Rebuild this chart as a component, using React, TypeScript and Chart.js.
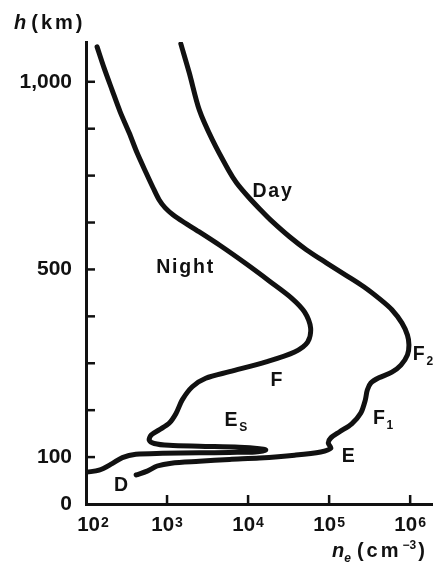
import React, { useEffect, useRef } from 'react';
import { Chart, registerables, LinearScale } from 'chart.js';

Chart.register(...registerables);

// Electron density profiles of the ionosphere (cm^-3 versus height in km)
const DAY_N = [1.48e3, 1.88e3, 2.5e3, 3.63e3, 5.72e3, 7.19e3, 1.01e4, 1.42e4, 1.89e4, 3.25e4, 5.28e4, 9.34e4, 1.6e5, 2.68e5, 4.35e5, 5.95e5, 7.9e5, 9.26e5, 9.66e5, 9.26e5, 7.69e5, 5.95e5, 4.11e5, 3.27e5, 2.96e5, 2.8e5, 2.46e5, 1.9e5, 1.35e5, 1.05e5, 9.75e4, 1.05e5, 7.87e4, 3.75e4, 1.38e4, 5.9e3, 2.5e3, 1.13e3, 756, 569, 416];
const DAY_H = [1101, 1024, 925, 845, 765, 731, 693, 659, 632, 587, 552, 517, 488, 463, 435, 414, 386, 360, 339, 318, 296, 281, 269, 258, 243, 222, 194, 171, 154, 141, 130, 119, 111, 104, 98, 95, 91, 87, 81, 70, 62];

const NIGHT_N = [137, 167, 210, 264, 341, 428, 553, 675, 801, 950, 1193, 1633, 2298, 4426, 9460, 1.84e4, 3.44e4, 4.99e4, 5.91e4, 5.43e4, 3.75e4, 1.67e4, 5.9e3, 3.0e3, 2.05e3, 1.54e3, 1.29e3, 1.06e3, 800, 637, 603, 695, 1.06e3, 2.5e3, 7.8e3, 1.38e4, 1.65e4, 1.23e4, 5.9e3, 2.5e3, 880, 412, 281, 210, 145, 103];
const NIGHT_H = [1093, 1037, 978, 920, 864, 810, 757, 717, 685, 664, 645, 625, 605, 565, 515, 475, 439, 409, 375, 345, 324, 303, 282, 268, 250, 222, 193, 172, 158, 147, 136, 129, 125, 123, 121, 118, 115, 111, 110, 109, 108, 106, 99, 86, 72, 68];

// Axis ranges and ticks
const N_MIN = 100;
const N_MAX = 1.86e6;
const H_MIN = 0;
const H_MAX = 1106;
const N_TICK_EXP = [2, 3, 4, 5, 6];
const H_TICKS = [100, 200, 300, 400, 500, 625, 750, 875, 1000];
const H_LABEL_VALUES = [0, 100, 500, 1000];
const H_LABEL_TEXT = ['0', '100', '500', '1,000'];

// Layer annotations: text, subscript, position (left edge, middle)
const LAYER_TEXT = ['Day', 'Night', 'F', 'F', 'F', 'E', 'E', 'D'];
const LAYER_SUB = ['', '', '', '2', '1', '', 'S', ''];
const LAYER_N = [1.13e4, 735, 1.89e4, 1.08e6, 3.47e5, 1.43e5, 5.1e3, 222];
const LAYER_H = [706, 504, 264, 318, 181, 102, 177, 40];

const FONT = '"Liberation Sans", Arial, Helvetica, sans-serif';
const INK = '#111111';

// Height axis: 100 km per division up to 500 km, 125 km per division above.
function kmToDiv(km: number) {
  return km <= 500 ? km / 100 : 5 + (km - 500) / 125;
}
function divToKm(d: number) {
  return d <= 5 ? d * 100 : 500 + (d - 5) * 125;
}

class HeightScale extends LinearScale {
  static id = 'height';
  static defaults = {};
  determineDataLimits() {
    super.determineDataLimits();
    (this as any).min = kmToDiv((this as any).min);
    (this as any).max = kmToDiv((this as any).max);
  }
  buildTicks() {
    return H_TICKS.map((v) => ({ value: v }));
  }
  getPixelForValue(value: number) {
    if (value === null || value === undefined || isNaN(value)) return NaN;
    const s = this as any;
    return s.getPixelForDecimal((kmToDiv(value) - s._startValue) / s._valueRange);
  }
  getValueForPixel(pixel: number) {
    const s = this as any;
    return divToKm(s._startValue + s.getDecimalForPixel(pixel) * s._valueRange);
  }
}
Chart.register(HeightScale as any);

function toPoints(ns: number[], hs: number[]) {
  return ns.map((n, i) => ({ x: n, y: hs[i] }));
}

type Run = { text: string; font: string; dy?: number; gap?: number; spacing?: string };

function drawRuns(ctx: CanvasRenderingContext2D, x: number, y: number, runs: Run[], align: 'left' | 'center' | 'right' = 'left') {
  let total = 0;
  const widths: number[] = [];
  for (const r of runs) {
    ctx.font = r.font;
    (ctx as any).letterSpacing = r.spacing || '0px';
    const w = ctx.measureText(r.text).width + (r.gap || 0);
    widths.push(w);
    total += w;
  }
  let cx = align === 'left' ? x : align === 'center' ? x - total / 2 : x - total;
  runs.forEach((r, i) => {
    ctx.font = r.font;
    (ctx as any).letterSpacing = r.spacing || '0px';
    ctx.fillText(r.text, cx + (r.gap || 0), y + (r.dy || 0));
    cx += widths[i];
  });
  (ctx as any).letterSpacing = '0px';
}

const decorations = {
  id: 'decorations',
  afterDraw(chart: any) {
    const { ctx, chartArea } = chart;
    const xs = chart.scales.x;
    const ys = chart.scales.y;
    ctx.save();
    ctx.strokeStyle = INK;
    ctx.fillStyle = INK;
    ctx.lineWidth = 2.5;

    // inward tick marks
    N_TICK_EXP.slice(1).forEach((e) => {
      const px = xs.getPixelForValue(Math.pow(10, e));
      ctx.beginPath();
      ctx.moveTo(px, chartArea.bottom);
      ctx.lineTo(px, chartArea.bottom - 9);
      ctx.stroke();
    });
    H_TICKS.forEach((h) => {
      const py = ys.getPixelForValue(h);
      ctx.beginPath();
      ctx.moveTo(chartArea.left, py);
      ctx.lineTo(chartArea.left + 9, py);
      ctx.stroke();
    });

    // x tick labels 10^n
    ctx.textBaseline = 'alphabetic';
    N_TICK_EXP.forEach((e, i) => {
      const px = xs.getPixelForValue(Math.pow(10, e)) + (i === 0 ? 7 : 0);
      drawRuns(ctx, px, chartArea.bottom + 27, [
        { text: '10', font: `bold 20.5px ${FONT}` },
        { text: String(e), font: `bold 14px ${FONT}`, dy: -4, gap: 1 },
      ], 'center');
    });

    // y tick labels
    ctx.textBaseline = 'middle';
    H_LABEL_VALUES.forEach((h, i) => {
      const py = ys.getPixelForValue(h);
      drawRuns(ctx, chartArea.left - 14, py, [{ text: H_LABEL_TEXT[i], font: `bold 21px ${FONT}` }], 'right');
    });

    // axis titles
    ctx.textBaseline = 'alphabetic';
    drawRuns(ctx, 14, 29, [
      { text: 'h', font: `italic bold 20px ${FONT}` },
      { text: '(km)', font: `bold 20px ${FONT}`, gap: 5, spacing: '3px' },
    ]);
    drawRuns(ctx, 332, 557, [
      { text: 'n', font: `italic bold 20px ${FONT}` },
      { text: 'e', font: `italic bold 12px ${FONT}`, dy: 5 },
      { text: '(cm', font: `bold 20px ${FONT}`, gap: 6, spacing: '3px' },
      { text: '\u22123', font: `bold 12px ${FONT}`, dy: -8, gap: 1 },
      { text: ')', font: `bold 20px ${FONT}`, gap: 2 },
    ]);

    // layer annotations
    ctx.textBaseline = 'middle';
    LAYER_TEXT.forEach((t, i) => {
      const px = xs.getPixelForValue(LAYER_N[i]);
      const py = ys.getPixelForValue(LAYER_H[i]);
      const runs: Run[] = [{ text: t, font: `bold 19.5px ${FONT}`, spacing: '1.8px' }];
      if (LAYER_SUB[i]) runs.push({ text: LAYER_SUB[i], font: `bold 12px ${FONT}`, dy: 7, gap: 0 });
      drawRuns(ctx, px, py, runs);
    });
    ctx.restore();
  },
};

export default function App() {
  const ref = useRef<HTMLCanvasElement>(null);
  useEffect(() => {
    if (!ref.current) return;
    const lineStyle = {
      showLine: true,
      borderColor: INK,
      borderWidth: 5,
      pointRadius: 0,
      tension: 0.3,
      borderCapStyle: 'round' as const,
      borderJoinStyle: 'round' as const,
      fill: false,
    };
    const chart = new Chart(ref.current, {
      type: 'scatter',
      data: {
        datasets: [
          { label: 'Day', data: toPoints(DAY_N, DAY_H), ...lineStyle },
          { label: 'Night', data: toPoints(NIGHT_N, NIGHT_H), ...lineStyle },
        ],
      },
      options: {
        animation: false,
        responsive: false,
        devicePixelRatio: 1,
        layout: { padding: { left: 86, right: 4, top: 42, bottom: 72 } },
        plugins: { legend: { display: false }, tooltip: { enabled: false } },
        scales: {
          x: {
            type: 'logarithmic',
            min: N_MIN,
            max: N_MAX,
            ticks: { display: false },
            grid: { display: false, drawTicks: false, drawOnChartArea: false },
            border: { display: true, color: INK, width: 3 },
          },
          y: {
            type: 'height' as any,
            min: H_MIN,
            max: H_MAX,
            ticks: { display: false },
            grid: { display: false, drawTicks: false, drawOnChartArea: false },
            border: { display: true, color: INK, width: 3 },
          },
        },
      },
      plugins: [decorations],
    } as any);
    return () => chart.destroy();
  }, []);
  return (
    <div style={{ position: 'fixed', left: 0, top: 0, width: 436, height: 576, background: '#ffffff' }}>
      <canvas ref={ref} width={436} height={576} style={{ display: 'block' }} />
    </div>
  );
}
